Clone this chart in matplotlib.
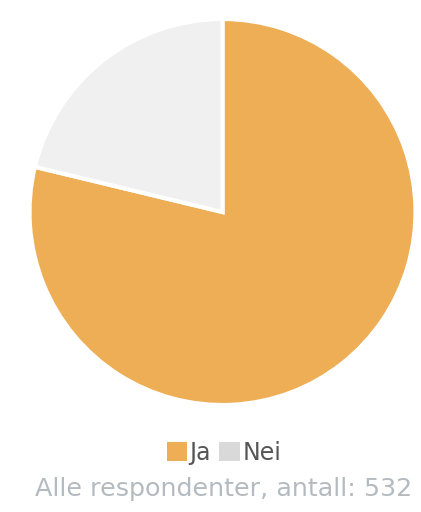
import matplotlib
matplotlib.use("Agg")
import matplotlib.pyplot as plt
from matplotlib.patches import Patch

plt.rcParams['font.family'] = ['DejaVu Sans']

labels = ["Ja", "Nei"]
counts = [419, 113]
slice_colors = ["#EDAE55", "#F0F0F0"]
legend_colors = ["#EDAE55", "#D9D9D9"]
caption = "Alle respondenter, antall: 532"

W, H = 421, 512
fig = plt.figure(figsize=(W / 100, H / 100), dpi=100)

# pie centre and radius in pixels
cx, cy, r = 222.5, 212, 193
ax = fig.add_axes([(cx - r) / W, (H - cy - r) / H, 2 * r / W, 2 * r / H])
ax.pie(counts, colors=slice_colors, startangle=90, counterclock=False,
       radius=1, wedgeprops=dict(edgecolor="white", linewidth=3))
ax.set_xlim(-1, 1)
ax.set_ylim(-1, 1)
ax.set_aspect("equal")
ax.axis("off")

handles = [Patch(facecolor=c, edgecolor="none") for c in legend_colors]
fig.legend(handles, labels, loc="center", bbox_to_anchor=(224 / W, 1 - 453 / H),
           ncol=2, frameon=False, fontsize=17, handlelength=0.85, handleheight=0.85,
           handletextpad=0.12, columnspacing=0.35, labelcolor="#555555")

fig.text(224 / W, 1 - 489 / H, caption, ha="center", va="center",
         fontsize=18.3, color="#B4BBC0")

fig.savefig("out.png", dpi=100)
